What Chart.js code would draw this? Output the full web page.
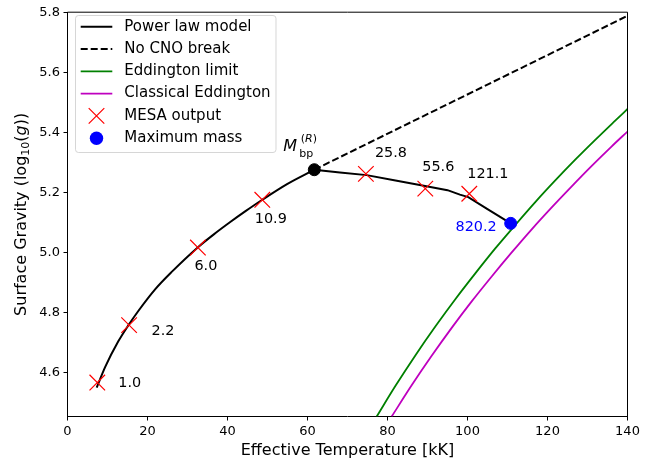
<!DOCTYPE html>
<html>
<head>
<meta charset="utf-8">
<script src="https://cdn.jsdelivr.net/npm/chart.js@4.4.0/dist/chart.umd.min.js"></script>
<style>
  html, body { margin: 0; padding: 0; background: #fff; }
</style>
</head>
<body>
<canvas id="chart" width="665" height="462"></canvas>
<script>
// Power law model (effective temperature in kK, log g), rising branch up to the break
const modelT = [7.3, 9.4, 12.7, 15.2, 17.7, 21.9, 26.05, 32.7, 36.5, 40.6, 44.5, 48.7, 55.0, 61.7];
const modelG = [4.551, 4.619, 4.705, 4.758, 4.806, 4.878, 4.936, 5.019, 5.060, 5.101, 5.138, 5.176, 5.229, 5.276];
// falling branch after the break, down to the maximum mass
const model2T = [61.7, 68.1, 74.8, 82.0, 89.4, 95.0, 98.1, 100.2, 105.0, 110.8];
const model2G = [5.276, 5.267, 5.258, 5.240, 5.222, 5.208, 5.193, 5.185, 5.145, 5.0975];

// No CNO break (straight continuation)
const noCnoT = [61.7, 140];
const noCnoG = [5.276, 5.788];

// Eddington limit
const eddT = [77.3, 82, 87, 92, 97, 102, 107, 112, 117, 122, 127, 132, 137, 140];
const eddG = [4.455, 4.557, 4.659, 4.755, 4.846, 4.932, 5.015, 5.093, 5.169, 5.241, 5.310, 5.376, 5.440, 5.478];

// Classical Eddington
const classicT = [81.05, 86, 91, 96, 101, 106, 111, 116, 121, 126, 131, 136, 140];
const classicG = [4.455, 4.558, 4.656, 4.749, 4.837, 4.920, 5.000, 5.077, 5.150, 5.220, 5.288, 5.353, 5.403];

// MESA output
const mesaT = [7.45, 15.4, 32.6, 48.7, 74.6, 89.45, 100.45];
const mesaG = [4.568, 4.759, 5.017, 5.176, 5.262, 5.213, 5.196];
const mesaMass = ['1.0', '2.2', '6.0', '10.9', '25.8', '55.6', '121.1'];

// break point and maximum mass
const breakT = [61.7];
const breakG = [5.276];
const maxT = [110.8];
const maxG = [5.0975];
const maxMass = ['820.2'];

const xTicks = [0, 20, 40, 60, 80, 100, 120, 140];
const yTicks = [4.6, 4.8, 5.0, 5.2, 5.4, 5.6, 5.8];

const legendLabels = ['Power law model', 'No CNO break', 'Eddington limit',
                      'Classical Eddington', 'MESA output', 'Maximum mass'];

const FAMILY = "'DejaVu Sans', sans-serif";
const pts = (xs, ys) => xs.map((x, i) => ({ x: x, y: ys[i] }));

// label offsets in pixels (dx, dy) from the marker
const labelOffsets = [[21, 0.5], [22.5, 6.5], [-3.5, 19], [-7.5, 19], [9, -20.5], [-3, -21], [-2, -19.5]];

const extras = {
    id: 'extras',
    afterDraw(chart) {
        const { ctx, chartArea: a, scales: { x, y } } = chart;
        ctx.save();

        // top and right spines
        ctx.strokeStyle = '#000';
        ctx.lineWidth = 1;
        ctx.beginPath();
        ctx.moveTo(a.left, a.top);
        ctx.lineTo(a.right, a.top);
        ctx.lineTo(a.right, a.bottom);
        ctx.stroke();

        // mass labels
        ctx.font = '14.4px ' + FAMILY;
        ctx.fillStyle = '#000';
        ctx.textBaseline = 'middle';
        ctx.textAlign = 'left';
        mesaMass.forEach((m, i) => {
            const px = x.getPixelForValue(mesaT[i]) + labelOffsets[i][0];
            const py = y.getPixelForValue(mesaG[i]) + labelOffsets[i][1];
            ctx.fillText(m, px, py);
        });
        ctx.fillStyle = '#0000ff';
        ctx.textAlign = 'right';
        ctx.fillText(maxMass[0], x.getPixelForValue(maxT[0]) - 14, y.getPixelForValue(maxG[0]) + 4);

        // M_bp^(R)
        const bx = x.getPixelForValue(breakT[0]);
        const by = y.getPixelForValue(breakG[0]);
        ctx.fillStyle = '#000';
        ctx.textAlign = 'left';
        ctx.textBaseline = 'alphabetic';
        ctx.font = 'italic 16px ' + FAMILY;
        ctx.fillText('M', bx - 31, by - 18.4);
        ctx.font = '11px ' + FAMILY;
        ctx.fillText('bp', bx - 15, by - 12.4);
        let sx = bx - 13.5;
        const sy = by - 27.7;
        ctx.fillText('(', sx, sy);
        sx += ctx.measureText('(').width;
        ctx.font = 'italic 11px ' + FAMILY;
        ctx.fillText('R', sx, sy);
        sx += ctx.measureText('R').width;
        ctx.font = '11px ' + FAMILY;
        ctx.fillText(')', sx, sy);

        // x axis title
        ctx.font = '16px ' + FAMILY;
        ctx.textAlign = 'center';
        ctx.textBaseline = 'middle';
        ctx.fillText('Effective Temperature [kK]', (a.left + a.right) / 2, 451);

        // y axis title
        const parts = [
            ['Surface Gravity (log', '16px ', 0],
            ['10', '11px ', 4],
            ['(', '16px ', 0],
            ['g', 'italic 16px ', 0],
            ['))', '16px ', 0]
        ];
        let total = 0;
        parts.forEach(p => { ctx.font = p[1] + FAMILY; total += ctx.measureText(p[0]).width; });
        ctx.translate(22, (a.top + a.bottom) / 2);
        ctx.rotate(-Math.PI / 2);
        ctx.textAlign = 'left';
        let tx = -total / 2;
        parts.forEach(p => {
            ctx.font = p[1] + FAMILY;
            ctx.fillText(p[0], tx, p[2]);
            tx += ctx.measureText(p[0]).width;
        });
        ctx.setTransform(1, 0, 0, 1, 0, 0);

        // legend
        const L = { left: 75.5, top: 15.5, w: 200.5, h: 137 };
        ctx.beginPath();
        ctx.roundRect(L.left, L.top, L.w, L.h, 3);
        ctx.fillStyle = 'rgba(255,255,255,0.8)';
        ctx.fill();
        ctx.strokeStyle = 'rgba(204,204,204,0.8)';
        ctx.lineWidth = 1;
        ctx.stroke();

        const h0 = 80.7, h1 = 112.3, hc = (h0 + h1) / 2;
        legendLabels.forEach((lab, i) => {
            const ry = 26.7 + i * 22.3;
            ctx.save();
            ctx.setLineDash([]);
            if (i < 4) {
                ctx.strokeStyle = ['#000', '#000', '#008000', '#bf00bf'][i];
                ctx.lineWidth = i < 2 ? 2 : 1.8;
                if (i === 1) ctx.setLineDash([7, 3]);
                ctx.beginPath();
                ctx.moveTo(h0, ry);
                ctx.lineTo(h1, ry);
                ctx.stroke();
            } else if (i === 4) {
                ctx.strokeStyle = '#ff0000';
                ctx.lineWidth = 1.2;
                ctx.beginPath();
                ctx.moveTo(hc - 7.8, ry - 7.8);
                ctx.lineTo(hc + 7.8, ry + 7.8);
                ctx.moveTo(hc + 7.8, ry - 7.8);
                ctx.lineTo(hc - 7.8, ry + 7.8);
                ctx.stroke();
            } else {
                ctx.fillStyle = '#0000ff';
                ctx.beginPath();
                ctx.arc(hc, ry, 6.7, 0, Math.PI * 2);
                ctx.fill();
            }
            ctx.restore();
            ctx.font = '15px ' + FAMILY;
            ctx.fillStyle = '#000';
            ctx.textAlign = 'left';
            ctx.textBaseline = 'middle';
            ctx.fillText(lab, 124.3, ry);
        });

        ctx.restore();
    }
};

const axisGrid = { display: true, drawOnChartArea: false, drawTicks: true, tickLength: 4, color: '#000' };
const axisBorder = { display: true, color: '#000', width: 1 };

new Chart(document.getElementById('chart').getContext('2d'), {
    type: 'scatter',
    data: {
        datasets: [
            {
                label: 'Maximum mass',
                data: pts(maxT, maxG),
                pointStyle: 'circle',
                pointRadius: 6,
                backgroundColor: '#0000ff',
                borderColor: '#0000ff',
                borderWidth: 1
            },
            {
                label: 'Break',
                data: pts(breakT, breakG),
                pointStyle: 'circle',
                pointRadius: 6,
                backgroundColor: '#000',
                borderColor: '#000',
                borderWidth: 1
            },
            {
                label: 'MESA output',
                data: pts(mesaT, mesaG),
                pointStyle: 'crossRot',
                pointRadius: 11,
                borderColor: '#ff0000',
                backgroundColor: '#ff0000',
                borderWidth: 1.2
            },
            {
                label: 'Power law model',
                data: pts(modelT, modelG),
                showLine: true,
                borderColor: '#000',
                borderWidth: 2,
                pointRadius: 0,
                cubicInterpolationMode: 'monotone'
            },
            {
                label: 'Power law model (after break)',
                data: pts(model2T, model2G),
                showLine: true,
                borderColor: '#000',
                borderWidth: 2,
                pointRadius: 0,
                tension: 0
            },
            {
                label: 'No CNO break',
                data: pts(noCnoT, noCnoG),
                showLine: true,
                borderColor: '#000',
                borderWidth: 2,
                borderDash: [7, 3],
                pointRadius: 0
            },
            {
                label: 'Eddington limit',
                data: pts(eddT, eddG),
                showLine: true,
                borderColor: '#008000',
                borderWidth: 1.8,
                pointRadius: 0,
                cubicInterpolationMode: 'monotone'
            },
            {
                label: 'Classical Eddington',
                data: pts(classicT, classicG),
                showLine: true,
                borderColor: '#bf00bf',
                borderWidth: 1.8,
                pointRadius: 0,
                cubicInterpolationMode: 'monotone'
            }
        ]
    },
    options: {
        responsive: false,
        animation: false,
        events: [],
        layout: { padding: { left: 0, top: 7.5, right: 37.5, bottom: 0 } },
        plugins: {
            legend: { display: false },
            tooltip: { enabled: false }
        },
        scales: {
            x: {
                type: 'linear',
                min: 0,
                max: 140,
                afterFit: s => { s.height = 45.5; },
                afterBuildTicks: s => { s.ticks = xTicks.map(v => ({ value: v })); },
                grid: axisGrid,
                border: axisBorder,
                ticks: {
                    font: { family: FAMILY, size: 13 },
                    color: '#000',
                    padding: 3,
                    maxRotation: 0,
                    callback: v => String(v)
                }
            },
            y: {
                type: 'linear',
                min: 4.455,
                max: 5.8,
                afterFit: s => { s.width = 67.5; },
                afterBuildTicks: s => { s.ticks = yTicks.map(v => ({ value: v })); },
                grid: axisGrid,
                border: axisBorder,
                ticks: {
                    font: { family: FAMILY, size: 13 },
                    color: '#000',
                    padding: 3.5,
                    callback: v => Number(v).toFixed(1)
                }
            }
        }
    },
    plugins: [extras]
});
</script>
</body>
</html>
